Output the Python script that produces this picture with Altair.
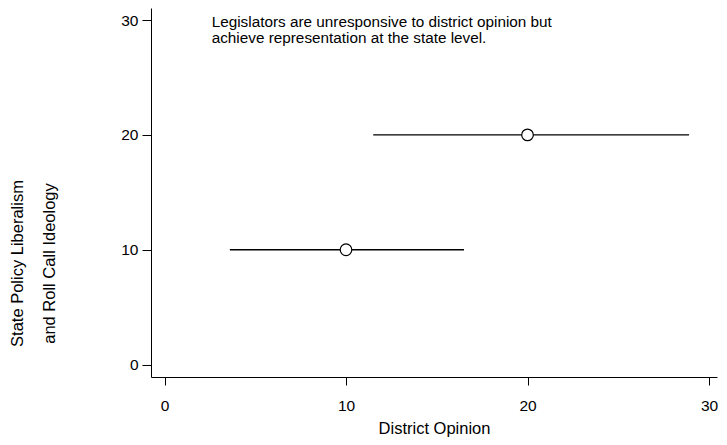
import altair as alt
import pandas as pd

# Point estimates and interval ends
district_opinion = [10, 20]
state_outcome = [10, 20]
interval_low = [3.6, 11.5]
interval_high = [16.5, 28.9]

# Axis ticks and domains
x_ticks = [0, 10, 20, 30]
y_ticks = [0, 10, 20, 30]
x_domain = [-0.744, 30.44]
y_domain = [-1.08, 31.05]

note_lines = ["Legislators are unresponsive to district opinion but",
              "\u00a0achieve representation at the state level."]
note_x = [2.6]
note_y = [30]

FONT = "Liberation Sans"

df = pd.DataFrame({
    "x": district_opinion,
    "y": state_outcome,
    "lo": interval_low,
    "hi": interval_high,
})
note_df = pd.DataFrame({"x": note_x, "y": note_y, "t": [note_lines]})

xs = alt.Scale(domain=x_domain, nice=False, zero=False)
ys = alt.Scale(domain=y_domain, nice=False, zero=False)

x_axis = alt.Axis(values=x_ticks, title="District Opinion", grid=False,
                  domainColor="black", tickColor="black", tickSize=8,
                  labelPadding=13, labelFontSize=15.5, labelFont=FONT, labelColor="black",
                  titleFont=FONT, titleFontSize=16.5, titleFontWeight="normal", titleColor="black",
                  titleBaseline="alphabetic", titleY=56)
y_axis = alt.Axis(values=y_ticks, title=["State Policy Liberalism", "and Roll Call Ideology"],
                  grid=False, domainColor="black", tickColor="black", tickSize=9,
                  labelPadding=4, labelFontSize=15.5, labelFont=FONT, labelColor="black",
                  titleFont=FONT, titleFontSize=16.5, titleFontWeight="normal", titleColor="black",
                  titleLineHeight=32, titleX=-134, titleY=255, titleBaseline="middle",
                  titleAlign="center", titleAngle=270)

rules = alt.Chart(df).mark_rule(color="black", strokeWidth=1.3).encode(
    x=alt.X("lo:Q", scale=xs, axis=x_axis),
    x2="hi:Q",
    y=alt.Y("y:Q", scale=ys, axis=y_axis),
)

points = alt.Chart(df).mark_point(shape="circle", size=135, filled=False, fill="white",
                                   fillOpacity=1, stroke="black", strokeWidth=1.2,
                                   opacity=1).encode(
    x=alt.X("x:Q", scale=xs),
    y=alt.Y("y:Q", scale=ys),
)

note = alt.Chart(note_df).mark_text(align="left", baseline="middle", font=FONT, fontSize=15.3,
                                    lineHeight=16, color="black", dy=2).encode(
    x=alt.X("x:Q", scale=xs),
    y=alt.Y("y:Q", scale=ys),
    text="t",
)

chart = (rules + points + note).properties(
    width=566, height=369,
    autosize=alt.AutoSizeParams(type="none"),
    padding={"left": 143, "top": 0, "right": 2, "bottom": 60},
).configure_view(stroke=None).configure_axis(domainWidth=1, tickWidth=1)

chart.save("out.html", embed_options={"renderer": "svg", "actions": False})
